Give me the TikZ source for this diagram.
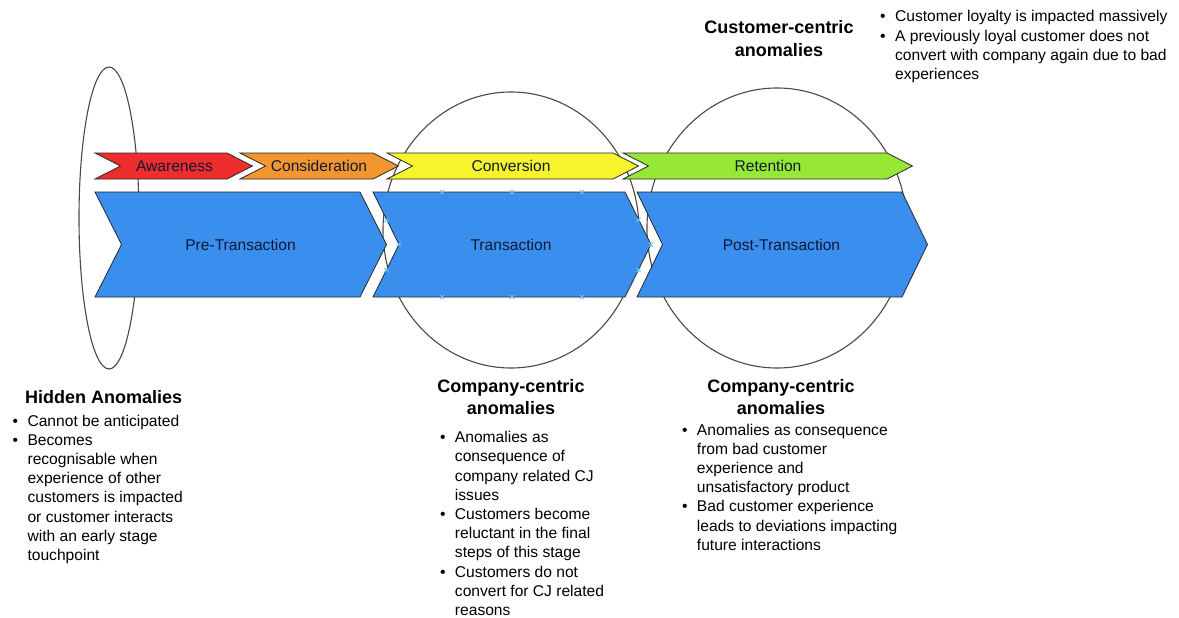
\documentclass[tikz,border=0pt]{standalone}
\usepackage{fontspec}
\setmainfont{Liberation Sans}
\usetikzlibrary{shapes.geometric}

\definecolor{awarered}{RGB}{238,46,44}
\definecolor{consorange}{RGB}{243,150,48}
\definecolor{convyellow}{RGB}{246,244,44}
\definecolor{retgreen}{RGB}{150,232,52}
\definecolor{stageblue}{RGB}{58,143,238}
\definecolor{handleblue}{RGB}{110,196,228}
\definecolor{outline}{RGB}{40,40,40}
\definecolor{labelink}{RGB}{16,26,52}

% chevron: left x, straight-end x, top y, bottom y, point depth, style
\newcommand{\chevronpath}[6]{%
  \path[#6] (#1,#3) -- (#2,#3) -- ({#2+#5},{(#3+#4)/2}) -- (#2,#4)
    -- (#1,#4) -- ({#1+#5},{(#3+#4)/2}) -- cycle;}

\tikzset{
  phase/.style={draw=outline, line width=0.8pt},
  ring/.style={ellipse, draw=outline!85, line width=1.1pt, inner sep=0pt},
  label/.style={inner sep=0pt, font=\fontsize{15.6}{19.2}\selectfont, text=labelink},
  heading/.style={inner sep=0pt, anchor=base, font=\fontsize{18}{22}\selectfont\bfseries},
  bulletlist/.style={inner sep=0pt, anchor=base west, font=\fontsize{15.6}{19.2}\selectfont},
  handle/.pic={\draw[handleblue, line width=0.8pt] (-2.2,-2.2) -- (2.2,2.2) (-2.2,2.2) -- (2.2,-2.2);}
}
\newcommand{\bul}{\textbullet}

\begin{document}
\begin{tikzpicture}[x=1pt, y=-1pt]
\useasboundingbox (0,0) rectangle (1179,618);

% anomaly zones
\node[ring, minimum width=60pt, minimum height=302pt] (hiddenzone) at (109,218) {};
\node[ring, minimum width=256pt, minimum height=276pt] (companyzone) at (511,230) {};
\node[ring, minimum width=260pt, minimum height=280pt] (customerzone) at (777,228) {};

% customer journey phases
\chevronpath{95}{227}{153}{179}{25.5}{phase, fill=awarered}
\chevronpath{240}{373}{153}{179}{25.5}{phase, fill=consorange}
\chevronpath{387}{613}{153}{179}{25.5}{phase, fill=convyellow}
\chevronpath{623}{887}{153}{179}{25.5}{phase, fill=retgreen}

\node[label] (aw) at (174.5,166) {Awareness};
\node[label] (co) at (319,166) {Consideration};
\node[label] (cv) at (511,166) {Conversion};
\node[label] (re) at (768,166) {Retention};

% transaction stages
\chevronpath{95}{360}{192}{297}{26.5}{phase, fill=stageblue}
\chevronpath{373}{625}{192}{297}{26}{phase, fill=stageblue}
\chevronpath{637}{902}{192}{297}{25.5}{phase, fill=stageblue}

\node[label] (pre) at (240.5,245) {Pre-Transaction};
\node[label] (tr) at (511,245) {Transaction};
\node[label] (post) at (781.5,245) {Post-Transaction};

% connection handles of the Transaction stage
\foreach \hx in {442,512,582} {
  \pic at (\hx,192) {handle};
  \pic at (\hx,297) {handle};
}
\pic at (386.5,220) {handle};
\pic at (399,244.5) {handle};
\pic at (386.5,270) {handle};
\pic at (638.5,220) {handle};
\pic at (651,244.5) {handle};
\pic at (638.5,270) {handle};

% hidden anomalies
\node[inner sep=0pt, anchor=base west, font=\fontsize{18}{22}\selectfont\bfseries] (hiddenhead) at (25,403) {Hidden Anomalies};
\node[bulletlist] (hiddenlist) at (12.4,426) {%
  \begin{tabular}[t]{@{}l@{\hspace{9.5pt}}l@{}}
  \bul & Cannot be anticipated\\
  \bul & Becomes\\
       & recognisable when\\
       & experience of other\\
       & customers is impacted\\
       & or customer interacts\\
       & with an early stage\\
       & touchpoint
  \end{tabular}};

% company-centric anomalies in the transaction stage
\node[heading] (companyhead) at (511,392) {%
  \begin{tabular}[t]{@{}c@{}}Company-centric\\anomalies\end{tabular}};
\node[bulletlist] (companylist) at (439.8,442.7) {%
  \begin{tabular}[t]{@{}l@{\hspace{9.5pt}}l@{}}
  \bul & Anomalies as\\
       & consequence of\\
       & company related CJ\\
       & issues\\
  \bul & Customers become\\
       & reluctant in the final\\
       & steps of this stage\\
  \bul & Customers do not\\
       & convert for CJ related\\
       & reasons
  \end{tabular}};

% company-centric anomalies in the post-transaction stage
\node[heading] (posthead) at (781,392) {%
  \begin{tabular}[t]{@{}c@{}}Company-centric\\anomalies\end{tabular}};
\node[bulletlist] (postlist) at (681.8,435) {%
  \begin{tabular}[t]{@{}l@{\hspace{9.5pt}}l@{}}
  \bul & Anomalies as consequence\\
       & from bad customer\\
       & experience and\\
       & unsatisfactory product\\
  \bul & Bad customer experience\\
       & leads to deviations impacting\\
       & future interactions
  \end{tabular}};

% customer-centric anomalies
\node[heading, font=\fontsize{18}{23}\selectfont\bfseries] (customerhead) at (779,34) {%
  \begin{tabular}[t]{@{}c@{}}Customer-centric\\anomalies\end{tabular}};
\node[bulletlist] (customerlist) at (880,22) {%
  \begin{tabular}[t]{@{}l@{\hspace{9.5pt}}l@{}}
  \bul & Customer loyalty is impacted massively\\
  \bul & A previously loyal customer does not\\
       & convert with company again due to bad\\
       & experiences
  \end{tabular}};
\end{tikzpicture}
\end{document}
